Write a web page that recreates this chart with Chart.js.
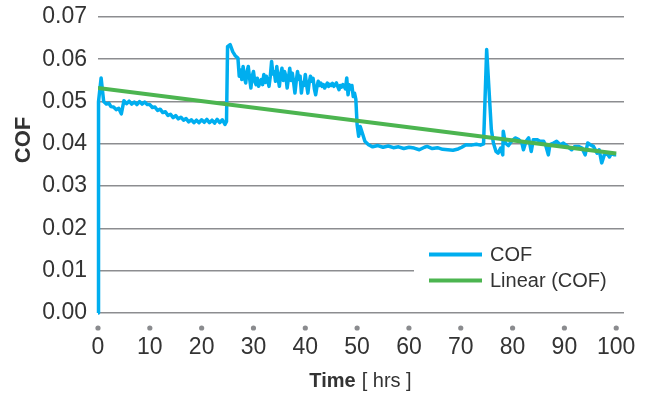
<!DOCTYPE html>
<html>
<head>
<meta charset="utf-8">
<script src="https://cdn.jsdelivr.net/npm/chart.js@4/dist/chart.umd.min.js"></script>
<style>
  html, body { margin: 0; padding: 0; background: #fff; }
  #wrap { width: 649px; height: 394px; }
</style>
</head>
<body>
<div id="wrap"><canvas id="cofChart" width="649" height="394"></canvas></div>
<script>
// measured COF over time (hrs)
const timeHrs = [
  0, 0.1, 0.6, 1.1, 1.6, 2.1, 2.5, 3.0, 3.5, 4.0, 4.5, 5.0, 5.5, 6.0, 6.5, 7.0, 7.5, 8.0, 8.5, 9.0,
  9.5, 10.0, 10.5, 11.0, 11.5, 12.0, 12.5, 13.0, 13.5, 14.0, 14.5, 15.0, 15.5, 16.0, 16.5, 17.0, 17.5, 18.0, 18.5, 19.0,
  19.5, 20.0, 20.5, 21.0, 21.5, 22.0, 22.5, 23.0, 23.5, 24.0, 24.5, 24.8,
  25.0, 25.5, 26.0, 26.5,
  27.0, 27.25, 27.5, 27.75, 28.0, 28.25, 28.5, 28.75, 29.0, 29.25, 29.5, 29.75,
  30.0, 30.25, 30.5, 30.75, 31.0, 31.25, 31.5, 31.75, 32.0, 32.25, 32.5, 32.75,
  33.0, 33.25, 33.5, 33.75, 34.0, 34.25, 34.5, 34.75, 35.0, 35.25, 35.5, 35.75,
  36.0, 36.25, 36.5, 36.75, 37.0, 37.25, 37.5, 37.75, 38.0, 38.25, 38.5, 38.75,
  39.0, 39.25, 39.5, 39.75, 40.0, 40.25, 40.5, 40.75, 41.0, 41.25, 41.5, 41.75,
  42.0, 42.25, 42.5, 42.75, 43.0, 43.25, 43.5, 43.75, 44.0, 44.25, 44.5, 44.75,
  45.0, 45.25, 45.5, 45.75, 46.0, 46.25, 46.5, 46.75, 47.0, 47.25, 47.5, 47.75,
  48.0, 48.25, 48.5, 48.75, 49.0, 49.25, 49.5, 49.75,
  50.0, 50.3, 50.6, 51.2, 51.5, 52.2, 53.0, 54.0, 55.0, 56.0, 57.0, 58.0, 59.0, 60.0, 61.0, 62.0, 63.0, 63.5, 64.5,
  65.5, 66.5, 67.5, 68.5, 69.5, 70.2, 71.0, 72.0, 73.0, 73.8, 74.4, 75.0, 75.9, 76.3, 76.8, 77.2, 77.7, 78.1, 78.2, 78.6,
  79.2, 79.8, 80.5, 81.2, 81.8, 82.1, 82.6, 83.1, 83.6, 84.0, 84.7, 85.3, 86.0, 86.4, 86.9, 87.2, 87.9, 88.5, 89.2, 89.8,
  90.6, 91.4, 92.0, 92.7, 93.4, 94.0, 94.5, 95.0, 95.6, 96.3, 96.7, 97.2, 97.7, 98.2, 98.7, 99.1, 99.6, 100.0
];
const cofValues = [
  0, 0.0500, 0.0556, 0.0500, 0.0494, 0.0496, 0.0488, 0.0487, 0.0481, 0.0484, 0.0471, 0.0502, 0.0495, 0.0501, 0.0494, 0.0499, 0.0493, 0.0500, 0.0494, 0.0499,
  0.0493, 0.0493, 0.0486, 0.0487, 0.0479, 0.0482, 0.0474, 0.0476, 0.0467, 0.0470, 0.0462, 0.0467, 0.0459, 0.0463, 0.0456, 0.0460, 0.0452, 0.0457, 0.0450, 0.0456,
  0.0450, 0.0457, 0.0451, 0.0458, 0.0450, 0.0456, 0.0449, 0.0458, 0.0450, 0.0457, 0.0446, 0.0453,
  0.0630, 0.0635, 0.0618, 0.0608,
  0.0603, 0.0560, 0.0575, 0.0552, 0.0583, 0.0558, 0.0544, 0.0570, 0.0583, 0.0555, 0.0532, 0.0560,
  0.0571, 0.0548, 0.0540, 0.0555, 0.0536, 0.0546, 0.0552, 0.0540, 0.0564, 0.0545, 0.0560, 0.0550,
  0.0536, 0.0560, 0.0595, 0.0565, 0.0571, 0.0548, 0.0583, 0.0555, 0.0536, 0.0565, 0.0579, 0.0550,
  0.0571, 0.0560, 0.0532, 0.0555, 0.0579, 0.0550, 0.0567, 0.0545, 0.0520, 0.0548, 0.0571, 0.0552,
  0.0560, 0.0520, 0.0545, 0.0538, 0.0564, 0.0540, 0.0520, 0.0545, 0.0560, 0.0548, 0.0555, 0.0530,
  0.0516, 0.0535, 0.0548, 0.0538, 0.0544, 0.0536, 0.0540, 0.0532, 0.0538, 0.0544, 0.0536, 0.0541,
  0.0538, 0.0543, 0.0536, 0.0540, 0.0544, 0.0536, 0.0528, 0.0538, 0.0534, 0.0540, 0.0536, 0.0530,
  0.0556, 0.0516, 0.0540, 0.0530, 0.0538, 0.0512, 0.0520, 0.0506,
  0.0445, 0.0418, 0.0441, 0.0418, 0.0406, 0.0398, 0.0393, 0.0396, 0.0392, 0.0395, 0.0391, 0.0393, 0.0389, 0.0392, 0.0390, 0.0386, 0.0392, 0.0394, 0.0389,
  0.0391, 0.0387, 0.0386, 0.0385, 0.0388, 0.0392, 0.0398, 0.0397, 0.0399, 0.0397, 0.0400, 0.0623, 0.0434, 0.0402, 0.0382, 0.0378, 0.0390, 0.0374, 0.0430, 0.0402,
  0.0396, 0.0406, 0.0414, 0.0410, 0.0402, 0.0386, 0.0406, 0.0414, 0.0382, 0.0410, 0.0410, 0.0406, 0.0406, 0.0396, 0.0374, 0.0398, 0.0402, 0.0406, 0.0398, 0.0402,
  0.0394, 0.0386, 0.0394, 0.0394, 0.0390, 0.0374, 0.0402, 0.0398, 0.0394, 0.0378, 0.0386, 0.0355, 0.0374, 0.0378, 0.0369, 0.0378, 0.0374, 0.0374
];
// Excel linear trendline end points
const trendTime = [0, 100];
const trendValues = [0.0532, 0.0377];

const xTicks = [0, 10, 20, 30, 40, 50, 60, 70, 80, 90, 100];

const FONT = "'Liberation Sans', Arial, Helvetica, sans-serif";
const TEXT = '#333333';
const BLUE = '#00aeef';
const GREEN = '#4cb550';

// legend, axis titles and x tick dots
const decorPlugin = {
  id: 'decor',
  afterDatasetsDraw(chart) {
    const ctx = chart.ctx;
    const xs = chart.scales.x;
    ctx.save();

    // tick dots under the axis
    ctx.fillStyle = '#8a8b8e';
    xTicks.forEach(v => {
      ctx.beginPath();
      ctx.arc(xs.getPixelForValue(v), 328, 2.6, 0, Math.PI * 2);
      ctx.fill();
    });

    // legend box
    ctx.fillStyle = '#ffffff';
    ctx.fillRect(414, 238, 212, 60);
    ctx.lineWidth = 4;
    ctx.strokeStyle = BLUE;
    ctx.beginPath(); ctx.moveTo(429, 254.5); ctx.lineTo(482, 254.5); ctx.stroke();
    ctx.strokeStyle = GREEN;
    ctx.beginPath(); ctx.moveTo(429, 280.5); ctx.lineTo(482, 280.5); ctx.stroke();
    ctx.fillStyle = TEXT;
    ctx.font = '20px ' + FONT;
    ctx.textBaseline = 'middle';
    ctx.textAlign = 'left';
    ctx.fillText('COF', 490, 255);
    ctx.fillText('Linear (COF)', 490, 281);

    // y title
    ctx.save();
    ctx.translate(24, 140);
    ctx.rotate(-Math.PI / 2);
    ctx.font = 'bold 22px ' + FONT;
    ctx.textAlign = 'center';
    ctx.textBaseline = 'middle';
    ctx.fillText('COF', 0, 0);
    ctx.restore();

    // x title: bold "Time" + normal "[ hrs ]"
    ctx.textBaseline = 'alphabetic';
    ctx.font = 'bold 20px ' + FONT;
    const w1 = ctx.measureText('Time').width;
    ctx.font = '20px ' + FONT;
    const w2 = ctx.measureText('[ hrs ]').width;
    const gap = 6;
    const x0 = 360.5 - (w1 + gap + w2) / 2;
    ctx.font = 'bold 20px ' + FONT;
    ctx.fillText('Time', x0, 386.5);
    ctx.font = '20px ' + FONT;
    ctx.fillText('[ hrs ]', x0 + w1 + gap, 386.5);

    ctx.restore();
  }
};

new Chart(document.getElementById('cofChart'), {
  type: 'line',
  data: {
    datasets: [
      {
        label: 'Linear (COF)',
        data: trendTime.map((t, i) => ({ x: t, y: trendValues[i] })),
        borderColor: GREEN,
        borderWidth: 4,
        pointRadius: 0,
        order: 0
      },
      {
        label: 'COF',
        data: timeHrs.map((t, i) => ({ x: t, y: cofValues[i] })),
        borderColor: BLUE,
        borderWidth: 3.5,
        pointRadius: 0,
        tension: 0,
        borderJoinStyle: 'round',
        clip: 4,
        order: 1
      }
    ]
  },
  options: {
    responsive: false,
    animation: false,
    layout: { padding: { top: 17, right: 25, bottom: 0, left: 0 } },
    plugins: {
      legend: { display: false },
      tooltip: { enabled: false }
    },
    scales: {
      x: {
        type: 'linear',
        min: 0,
        max: 101.5,
        grid: { display: false, drawTicks: false },
        border: { display: false },
        ticks: {
          stepSize: 10,
          padding: 21,
          color: TEXT,
          font: { family: FONT, size: 23 },
          maxRotation: 0
        },
        afterBuildTicks(scale) {
          scale.ticks = xTicks.map(v => ({ value: v }));
        },
        afterFit(scale) {
          scale.height = 81;
          scale.paddingLeft = 0;
          scale.paddingRight = 0;
        }
      },
      y: {
        min: 0,
        max: 0.07,
        grid: { color: '#8c8d90', lineWidth: 1.6, drawTicks: false },
        border: { display: false },
        ticks: {
          stepSize: 0.01,
          padding: 11,
          color: TEXT,
          font: { family: FONT, size: 23 },
          callback: v => v.toFixed(2)
        },
        afterFit(scale) {
          scale.width = 98;
          scale.paddingTop = 0;
          scale.paddingBottom = 0;
        }
      }
    }
  },
  plugins: [decorPlugin]
});
</script>
</body>
</html>
